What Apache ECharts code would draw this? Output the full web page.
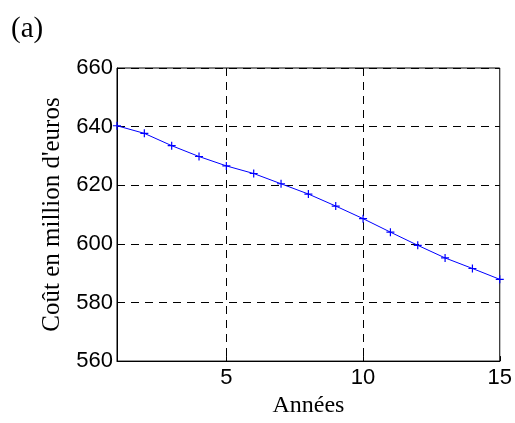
<!DOCTYPE html>
<html><head><meta charset="utf-8">
<script src="https://cdn.jsdelivr.net/npm/echarts@6/dist/echarts.min.js"></script>
<style>html,body{margin:0;padding:0;background:#fff}#c{width:515px;height:423px}</style>
</head><body><div id="c"></div>
<script>
const years = ['1','2','3','4','5','6','7','8','9','10','11','12','13','14','15'];
const cost = [640.3, 637.7, 633.5, 629.8, 626.6, 624.0, 620.5, 617.0, 612.9, 608.6, 604.0, 599.5, 595.2, 591.6, 587.9];
const yTicks = [560, 580, 600, 620, 640, 660];
const xTickLabels = ['5', '10', '15'];
const panelLabel = '(a)';

const chart = echarts.init(document.getElementById('c'), null, {renderer: 'canvas'});
const show = (i, v) => xTickLabels.indexOf(String(v)) >= 0;
const grid = (i, v) => v === '5' || v === '10';
chart.setOption({
  animation: false,
  backgroundColor: '#fff',
  title: {text: panelLabel, left: 6, top: 10, textStyle: {fontFamily: 'Liberation Serif', fontSize: 29, fontWeight: 'normal', color: '#000'}},
  grid: {left: 117, right: 15, top: 68, bottom: 59, show: true, borderColor: '#000', borderWidth: 1, backgroundColor: 'transparent'},
  xAxis: {
    type: 'category', data: years, boundaryGap: false,
    name: 'Années', nameLocation: 'middle', nameGap: 31,
    nameTextStyle: {fontFamily: 'Liberation Serif', fontSize: 24, color: '#000'},
    axisLine: {lineStyle: {color: '#000', width: 1}},
    axisTick: {show: true, inside: true, length: 5, interval: show, lineStyle: {color: '#000'}},
    axisLabel: {interval: show, fontFamily: 'Liberation Sans', fontSize: 22, color: '#000', margin: 6},
    splitLine: {show: true, interval: grid, lineStyle: {color: '#000', type: [8, 6], width: 1}}
  },
  yAxis: {
    type: 'value', min: yTicks[0], max: yTicks[yTicks.length - 1], interval: 20,
    name: 'Coût en million d\'euros', nameLocation: 'middle', nameGap: 52,
    nameTextStyle: {fontFamily: 'Liberation Serif', fontSize: 25, color: '#000'},
    axisLine: {show: true, lineStyle: {color: '#000', width: 1}},
    axisTick: {show: true, inside: true, length: 5, lineStyle: {color: '#000'}},
    axisLabel: {fontFamily: 'Liberation Sans', fontSize: 22, color: '#000', margin: 4},
    splitLine: {show: true, lineStyle: {color: '#000', type: [8, 6], width: 1}}
  },
  series: [{
    type: 'line', data: cost,
    symbol: 'path://M0,5 L10,5 M5,0 L5,10', symbolSize: 8,
    showAllSymbol: true,
    lineStyle: {color: '#0000ff', width: 1},
    itemStyle: {color: 'none', borderColor: '#0000ff', borderWidth: 1.2}
  }]
});
</script></body></html>
